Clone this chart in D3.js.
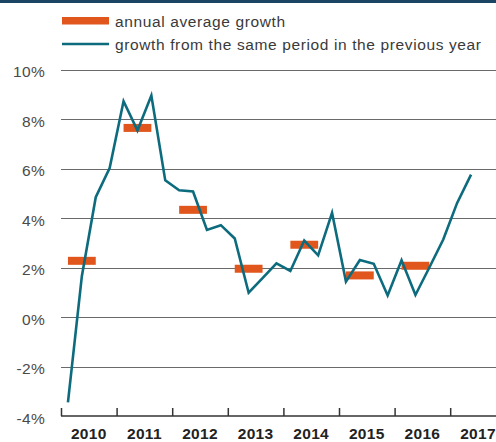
<!DOCTYPE html>
<html><head><meta charset="utf-8">
<script src="https://cdn.jsdelivr.net/npm/d3@7"></script>
<style>
html,body{margin:0;padding:0;background:#fff;}
svg{display:block;font-family:"Liberation Sans",Arial,sans-serif;}
</style></head>
<body>
<svg id="c" width="496" height="442"></svg>
<script>
const years = [2010, 2011, 2012, 2013, 2014, 2015, 2016, 2017];
const annualYears = [2010, 2011, 2012, 2013, 2014, 2015, 2016];
const annualAverage = [2.27, 7.64, 4.33, 1.95, 2.92, 1.68, 2.07];
const quarterYears = [2010,2010,2010,2010, 2011,2011,2011,2011, 2012,2012,2012,2012, 2013,2013,2013,2013, 2014,2014,2014,2014, 2015,2015,2015,2015, 2016,2016,2016,2016, 2017,2017];
const quarterNums  = [1,2,3,4, 1,2,3,4, 1,2,3,4, 1,2,3,4, 1,2,3,4, 1,2,3,4, 1,2,3,4, 1,2];
const quarterGrowth = [-3.45, 1.65, 4.84, 6.02, 8.72, 7.54, 8.95, 5.52, 5.12, 5.07, 3.52, 3.71, 3.17, 0.98, 1.57, 2.17, 1.86, 3.09, 2.49, 4.21, 1.43, 2.30, 2.15, 0.87, 2.29, 0.89, 2.00, 3.13, 4.61, 5.75];
const yTicks = [10, 8, 6, 4, 2, 0, -2, -4];
const legendLabels = ["annual average growth", "growth from the same period in the previous year"];

const svg = d3.select("#c");
const orange = "#e0561c", teal = "#0d6b7e";

svg.append("rect").attr("x",0).attr("y",0).attr("width",496).attr("height",3).attr("fill","#1b4563");

const x = d3.scaleLinear().domain([2010, 2018]).range([61, 61 + 8*55.6]);
const y = d3.scaleLinear().domain([-4, 10]).range([416, 69.5]);

// gridlines
svg.append("g").selectAll("line").data(yTicks.filter(d => d > -4)).join("line")
  .attr("x1", 61).attr("x2", 496)
  .attr("y1", d => Math.round(y(d)) + 0.5).attr("y2", d => Math.round(y(d)) + 0.5)
  .attr("stroke", "#6a6a6a").attr("stroke-width", 1.2);

// y labels
svg.append("g").selectAll("text").data(yTicks).join("text")
  .attr("x", 45).attr("y", d => y(d) + 7.5)
  .attr("text-anchor", "end").attr("font-size", 15.5).attr("letter-spacing", 0.3).attr("fill", "#4a4a4a")
  .text(d => d + "%");

// x axis
const xAxis = d3.axisBottom(x).tickValues(d3.range(2010, 2019)).tickSize(-8).tickFormat("");
const gx = svg.append("g").attr("transform", "translate(0,416)").call(xAxis);
gx.select(".domain").attr("stroke", "#333").attr("stroke-width", 1.5).attr("d", "M61,0H496");
gx.selectAll(".tick line").attr("stroke", "#333").attr("stroke-width", 1.5);

svg.append("g").selectAll("text").data(years).join("text")
  .attr("x", d => x(d + 0.5)).attr("y", 438.5)
  .attr("text-anchor", "middle").attr("font-size", 15.5).attr("letter-spacing", 0.3).attr("font-weight", "bold").attr("fill", "#222")
  .text(d => d);

// annual bars
svg.append("g").selectAll("rect").data(annualYears.map((yr,i)=>({yr, v: annualAverage[i]}))).join("rect")
  .attr("x", d => x(d.yr + 0.125)).attr("width", d => x(d.yr + 0.625) - x(d.yr + 0.125))
  .attr("y", d => y(d.v) - 4).attr("height", 8).attr("fill", orange);

// line
const pts = quarterGrowth.map((v,i)=>({t: quarterYears[i] + (quarterNums[i]-0.5)/4, v}));
svg.append("path").datum(pts)
  .attr("d", d3.line().x(d => x(d.t)).y(d => y(d.v)))
  .attr("fill", "none").attr("stroke", teal).attr("stroke-width", 2.6).attr("stroke-linejoin", "miter");

// legend
svg.append("rect").attr("x", 62).attr("y", 17).attr("width", 47).attr("height", 7.5).attr("fill", orange);
svg.append("line").attr("x1", 62).attr("x2", 109).attr("y1", 44).attr("y2", 44).attr("stroke", teal).attr("stroke-width", 2.5);
svg.append("g").selectAll("text").data(legendLabels).join("text")
  .attr("x", 115).attr("y", (d,i) => 27 + i*23)
  .attr("font-size", 15.5).attr("letter-spacing", 0.62).attr("fill", "#3a3a3a").text(d => d);
</script>
</body></html>
